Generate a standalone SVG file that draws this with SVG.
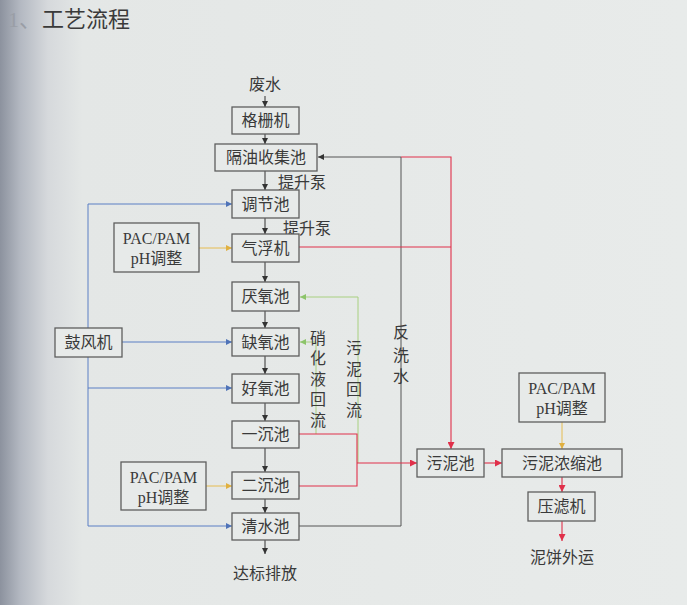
<svg xmlns="http://www.w3.org/2000/svg" width="687" height="605" viewBox="0 0 687 605">
<defs>
<linearGradient id="bg" x1="0" y1="0" x2="1" y2="0" gradientUnits="objectBoundingBox">
<stop offset="0" stop-color="#8c929e"/>
<stop offset="0.03" stop-color="#b4b9c2"/>
<stop offset="0.07" stop-color="#d6d9dc"/>
<stop offset="0.12" stop-color="#e4e7e6"/>
<stop offset="1" stop-color="#e8ebea"/>
</linearGradient>
<marker id="aK" viewBox="0 0 10 10" refX="10" refY="5" markerWidth="6" markerHeight="6" markerUnits="userSpaceOnUse" orient="auto"><path d="M0,0 L10,5 L0,10 z" fill="#333"/></marker>
<marker id="aB" viewBox="0 0 10 10" refX="10" refY="5" markerWidth="6" markerHeight="6" markerUnits="userSpaceOnUse" orient="auto"><path d="M0,0 L10,5 L0,10 z" fill="#4f73b8"/></marker>
<marker id="aR" viewBox="0 0 10 10" refX="10" refY="5" markerWidth="7" markerHeight="7" markerUnits="userSpaceOnUse" orient="auto"><path d="M0,0 L10,5 L0,10 z" fill="#e0304a"/></marker>
<marker id="aG" viewBox="0 0 10 10" refX="10" refY="5" markerWidth="6" markerHeight="6" markerUnits="userSpaceOnUse" orient="auto"><path d="M0,0 L10,5 L0,10 z" fill="#8cc46a"/></marker>
<marker id="aY" viewBox="0 0 10 10" refX="10" refY="5" markerWidth="6" markerHeight="6" markerUnits="userSpaceOnUse" orient="auto"><path d="M0,0 L10,5 L0,10 z" fill="#e0b040"/></marker>
</defs>
<style>
.box{fill:#e7eae9;stroke:#5e5e5e;stroke-width:1.3}
.t{font-family:"Liberation Serif","Noto Sans CJK SC",serif;font-size:16px;fill:#3a3a3a;text-anchor:middle}
.s{font-family:"Liberation Serif","Noto Sans CJK SC",serif;font-size:15px;fill:#3a3a3a;text-anchor:middle}
.k{fill:none;stroke:#333;stroke-width:1}
.g{fill:none;stroke:#555;stroke-width:1}
.b{fill:none;stroke:#5b7fc4;stroke-width:1}
.r{fill:none;stroke:#e0304a;stroke-width:1.1}
.gr{fill:none;stroke:#a8d080;stroke-width:1}
.y{fill:none;stroke:#e6bc50;stroke-width:1}
</style>
<rect x="0" y="0" width="687" height="605" fill="url(#bg)"/>
<g id="title">
<text x="8" y="27" font-family="Liberation Serif,Noto Sans CJK SC,serif" font-size="22" fill="#9a9ea6">1、</text>
<text x="42" y="27" font-family="Noto Sans CJK SC,sans-serif" font-size="22" fill="#3a3a3a">工艺流程</text>
</g>
<g id="connectors">
<line class="k" x1="265" y1="96" x2="265" y2="107" marker-end="url(#aK)"/>
<line class="k" x1="265" y1="134" x2="265" y2="144" marker-end="url(#aK)"/>
<line class="k" x1="265" y1="171" x2="265" y2="190" marker-end="url(#aK)"/>
<line class="k" x1="265" y1="218" x2="265" y2="234" marker-end="url(#aK)"/>
<line class="k" x1="265" y1="262" x2="265" y2="282" marker-end="url(#aK)"/>
<line class="k" x1="265" y1="311" x2="265" y2="328" marker-end="url(#aK)"/>
<line class="k" x1="265" y1="356" x2="265" y2="374" marker-end="url(#aK)"/>
<line class="k" x1="265" y1="403" x2="265" y2="421" marker-end="url(#aK)"/>
<line class="k" x1="265" y1="448" x2="265" y2="472" marker-end="url(#aK)"/>
<line class="k" x1="265" y1="499" x2="265" y2="513" marker-end="url(#aK)"/>
<line class="k" x1="265" y1="540" x2="265" y2="554" marker-end="url(#aK)"/>
<path class="g" d="M299,526 H401 V157 H318" marker-end="url(#aK)"/>
<path class="b" d="M88,204 V526"/>
<line class="b" x1="88" y1="204" x2="232" y2="204" marker-end="url(#aB)"/>
<line class="b" x1="88" y1="526" x2="232" y2="526" marker-end="url(#aB)"/>
<line class="b" x1="88" y1="388" x2="232" y2="388" marker-end="url(#aB)"/>
<line class="b" x1="122" y1="342" x2="232" y2="342" marker-end="url(#aB)"/>
<line class="y" x1="199" y1="248" x2="232" y2="248" marker-end="url(#aY)"/>
<line class="y" x1="206" y1="486" x2="232" y2="486" marker-end="url(#aY)"/>
<line class="y" x1="562" y1="422" x2="562" y2="449" marker-end="url(#aY)"/>
<path class="gr" d="M316,434 V342 H300" marker-end="url(#aG)"/>
<path class="gr" d="M358,463 V297 H300" marker-end="url(#aG)"/>
<path class="r" d="M299,434 H357 V486 H299"/>
<line class="r" x1="357" y1="463" x2="417" y2="463" marker-end="url(#aR)"/>
<path class="r" d="M401,157 H451 V449" marker-end="url(#aR)"/>
<line class="r" x1="299" y1="247" x2="451" y2="247"/>
<line class="r" x1="484" y1="463" x2="502" y2="463" marker-end="url(#aR)"/>
<line class="r" x1="562" y1="477" x2="562" y2="492" marker-end="url(#aR)"/>
<line class="r" x1="562" y1="521" x2="562" y2="541" marker-end="url(#aR)"/>
</g>
<g id="labels">
<text class="t" x="265" y="90">废水</text>
<text class="t" x="302" y="188">提升泵</text>
<text class="t" x="307" y="234">提升泵</text>
<text class="t" x="265" y="579">达标排放</text>
<text class="t" x="562" y="563">泥饼外运</text>
<text class="t" x="318" y="344">硝</text>
<text class="t" x="318" y="364">化</text>
<text class="t" x="318" y="385">液</text>
<text class="t" x="318" y="405">回</text>
<text class="t" x="318" y="426">流</text>
<text class="t" x="354" y="354">污</text>
<text class="t" x="354" y="375">泥</text>
<text class="t" x="354" y="395">回</text>
<text class="t" x="354" y="416">流</text>
<text class="t" x="401" y="338">反</text>
<text class="t" x="401" y="361">洗</text>
<text class="t" x="401" y="382">水</text>
</g>
<g id="n-gezha"><rect class="box" x="232" y="107" width="67" height="27"/><text class="t" x="265.5" y="126">格栅机</text></g>
<g id="n-geyou"><rect class="box" x="215" y="144" width="102" height="27"/><text class="t" x="266" y="163">隔油收集池</text></g>
<g id="n-tiaojie"><rect class="box" x="232" y="190" width="67" height="28"/><text class="t" x="265.5" y="210">调节池</text></g>
<g id="n-qifu"><rect class="box" x="232" y="234" width="67" height="28"/><text class="t" x="265.5" y="254">气浮机</text></g>
<g id="n-pac1"><rect class="box" x="114" y="223" width="85" height="49"/><text class="t" x="156.5" y="244">PAC/PAM</text><text class="t" x="156.5" y="264">pH调整</text></g>
<g id="n-yanyang"><rect class="box" x="232" y="282" width="67" height="29"/><text class="t" x="265.5" y="302">厌氧池</text></g>
<g id="n-gufeng"><rect class="box" x="55" y="328" width="67" height="29"/><text class="t" x="88.5" y="348">鼓风机</text></g>
<g id="n-queyang"><rect class="box" x="232" y="328" width="67" height="28"/><text class="t" x="265.5" y="348">缺氧池</text></g>
<g id="n-haoyang"><rect class="box" x="232" y="374" width="67" height="29"/><text class="t" x="265.5" y="394">好氧池</text></g>
<g id="n-yichen"><rect class="box" x="232" y="421" width="67" height="27"/><text class="t" x="265.5" y="440">一沉池</text></g>
<g id="n-pac2"><rect class="box" x="121" y="462" width="85" height="48"/><text class="t" x="163.5" y="483">PAC/PAM</text><text class="t" x="163.5" y="503">pH调整</text></g>
<g id="n-erchen"><rect class="box" x="232" y="472" width="67" height="27"/><text class="t" x="265.5" y="491">二沉池</text></g>
<g id="n-qingshui"><rect class="box" x="232" y="513" width="67" height="27"/><text class="t" x="265.5" y="532">清水池</text></g>
<g id="n-wuni"><rect class="box" x="417" y="449" width="67" height="28"/><text class="t" x="450.5" y="469">污泥池</text></g>
<g id="n-nongsuo"><rect class="box" x="502" y="449" width="120" height="28"/><text class="t" x="562" y="469">污泥浓缩池</text></g>
<g id="n-pac3"><rect class="box" x="519" y="373" width="86" height="49"/><text class="t" x="562" y="394">PAC/PAM</text><text class="t" x="562" y="414">pH调整</text></g>
<g id="n-yalv"><rect class="box" x="528" y="492" width="67" height="29"/><text class="t" x="561.5" y="512">压滤机</text></g>
</svg>
